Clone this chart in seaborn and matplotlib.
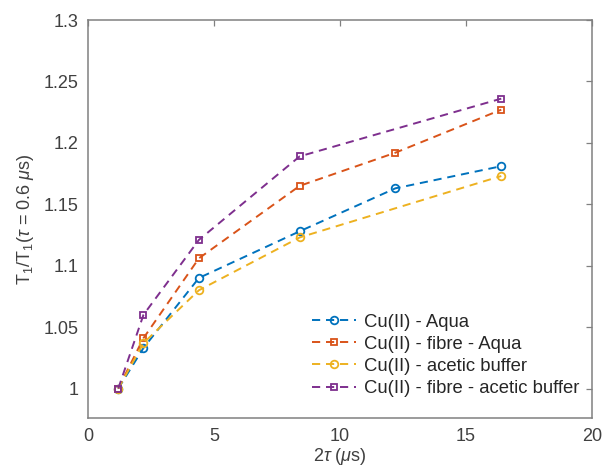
import matplotlib
matplotlib.use('Agg')
import matplotlib.pyplot as plt
import seaborn as sns
import pandas as pd

# values
x_aqua = [1.2, 2.2, 4.4, 8.4, 12.2, 16.4]
y_aqua = [1.0, 1.033, 1.090, 1.128, 1.163, 1.181]

x_fibre_aqua = [1.2, 2.2, 4.4, 8.4, 12.2, 16.4]
y_fibre_aqua = [1.0, 1.041, 1.106, 1.165, 1.192, 1.227]

x_acetic = [1.2, 2.2, 4.4, 8.4, 16.4]
y_acetic = [1.0, 1.037, 1.080, 1.123, 1.173]

x_fibre_acetic = [1.2, 2.2, 4.4, 8.4, 16.4]
y_fibre_acetic = [1.0, 1.060, 1.121, 1.189, 1.236]

labels = ['Cu(II) - Aqua', 'Cu(II) - fibre - Aqua',
          'Cu(II) - acetic buffer', 'Cu(II) - fibre - acetic buffer']
colors = ['#0072BD', '#D95319', '#EDB120', '#7E2F8E']
markers = ['o', 's', 'o', 's']
msizes = [5.5, 5.0, 5.5, 5.0]

xticks = [0, 5, 10, 15, 20]
yticks = [1, 1.05, 1.1, 1.15, 1.2, 1.25, 1.3]
ytick_labels = ['1', '1.05', '1.1', '1.15', '1.2', '1.25', '1.3']

sns.set_style('white')
plt.rcParams['font.family'] = ['Liberation Sans', 'DejaVu Sans']
plt.rcParams['mathtext.fontset'] = 'custom'
plt.rcParams['mathtext.rm'] = 'Liberation Sans'
plt.rcParams['mathtext.it'] = 'Liberation Sans:italic'

fig = plt.figure(figsize=(6.05, 4.72), dpi=100)
ax = fig.add_axes([0.1455, 0.1144, 0.833, 0.8432])

series = [(x_aqua, y_aqua), (x_fibre_aqua, y_fibre_aqua),
          (x_acetic, y_acetic), (x_fibre_acetic, y_fibre_acetic)]
for (xs, ys), lab, col, mk, ms in zip(series, labels, colors, markers, msizes):
    df = pd.DataFrame({'x': xs, 'y': ys})
    sns.lineplot(data=df, x='x', y='y', ax=ax, color=col, label=lab,
                 linewidth=1.4, marker=mk, markersize=ms,
                 markerfacecolor='none', markeredgecolor=col,
                 markeredgewidth=1.3)

# MATLAB-like dashed lines
for line in ax.lines:
    line.set_linestyle((0, (4.2, 3.0)))

ax.set_xlim(0, 20)
ax.set_ylim(0.976, 1.3)
ax.set_xticks(xticks)
ax.set_yticks(yticks)
ax.set_yticklabels(ytick_labels)

txt = '#404040'
for s in ax.spines.values():
    s.set_color('#808080')
    s.set_linewidth(1.1)
ax.tick_params(direction='in', length=4, width=0.9, color='#808080',
               labelsize=13, labelcolor=txt, top=True, right=True,
               labeltop=False, labelright=False, pad=7)

ax.set_xlabel(r'2$\tau$ ($\mu$s)', fontsize=13, color=txt, labelpad=1)
ax.set_ylabel(r'T$_1$/T$_1$($\tau$ = 0.6 $\mu$s)', fontsize=13, color=txt,
              labelpad=5)

leg = ax.legend(loc='lower right', bbox_to_anchor=(1.0, 0.02), fontsize=13.3,
                frameon=False, handlelength=2.4, handletextpad=0.4,
                borderpad=0.4, labelspacing=0.28, borderaxespad=0.3)
for t in leg.get_texts():
    t.set_color('#262626')

fig.savefig('out.png', dpi=100)
